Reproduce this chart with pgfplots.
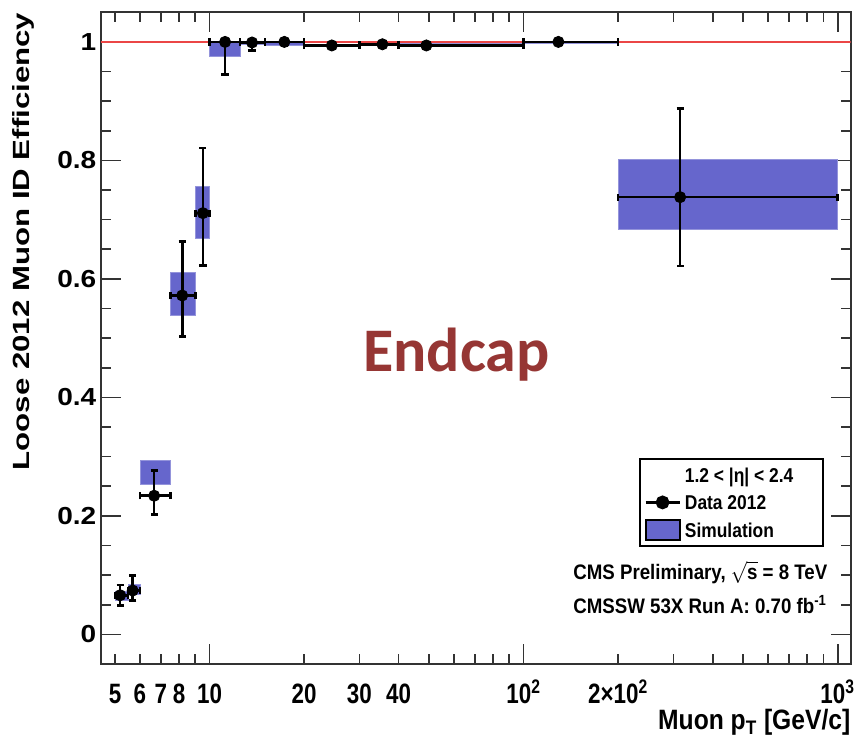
\documentclass[border=0pt]{standalone}
\usepackage{pgfplots}
\pgfplotsset{compat=1.18}
\usepackage{pgfplotstable}
\usepackage{fontspec}
\usepackage{graphicx}
\setmainfont{Liberation Sans}
\newfontfamily\calib{Carlito}

\definecolor{simblue}{RGB}{102,102,204}
\definecolor{endred}{RGB}{150,54,52}
\definecolor{oneline}{RGB}{235,70,70}

\newcommand{\fs}[1]{\fontsize{#1}{#1}\selectfont\bfseries}
\newcommand{\xt}[1]{\scalebox{0.8}[1]{#1}}
\newcommand{\yt}[1]{\scalebox{1}[0.88]{#1}}
\newcommand{\sq}[1]{\scalebox{0.87}[1]{#1}}

% data 2012: x, y, x errors (to bin edges), y errors
\pgfplotstableread{
x     y     exm  exp  eym    eyp
5.19  0.066 0.19 0.31 0.017  0.017
5.69  0.074 0.19 0.31 0.017  0.0255
6.66  0.234 0.66 0.84 0.032  0.043
8.18  0.572 0.68 0.82 0.0695 0.091
9.52  0.711 0.52 0.48 0.088  0.110
11.2  1.000 1.2  1.3  0.055  0.000
13.65 0.999 1.15 1.35 0.014  0.001
17.3  1.000 2.3  2.7  0.007  0.000
24.5  0.994 4.5  5.5  0.004  0.004
35.5  0.996 5.5  4.5  0.005  0.004
49    0.994 9    51   0.004  0.004
129   1.000 29   71   0.002  0.000
315   0.738 115  685  0.116  0.150
}\datatable

\begin{document}
\begin{tikzpicture}
\begin{axis}[
  scale only axis,
  width=375pt, height=325.85pt,
  xmode=log, log basis x=10,
  xmin=4.5, xmax=1100,
  ymin=-0.05, ymax=1.05,
  axis line style={line width=1pt, black!80},
  tick style={line width=0.8pt, black!80},
  major tick length=10pt,
  minor tick length=5pt,
  xtick={10,100,1000},
  xticklabels={\xt{10},\xt{10\textsuperscript{2}},\xt{10\textsuperscript{3}}},
  extra x ticks={5,6,7,8,20,30,40,200},
  extra x tick labels={\xt{5},\xt{6},\xt{7},\xt{8},\xt{20},\xt{30},\xt{40},\xt{2×10\textsuperscript{2}}},
  extra x tick style={/pgfplots/major tick length=5pt},
  minor xtick={9,50,60,70,80,90,300,400,500,600,700,800,900},
  xticklabel style={font=\fs{14}, anchor=base, yshift=-20pt, inner sep=0pt},
  ytick={0,0.2,0.4,0.6,0.8,1},
  yticklabels={\yt{0},\yt{0.2},\yt{0.4},\yt{0.6},\yt{0.8},\yt{1}},
  minor y tick num=3,
  yticklabel style={font=\fs{14}, anchor=east, inner sep=0pt, xshift=-2pt},
  xlabel={\scalebox{0.88}[1]{Muon p\textsubscript{T} [GeV/c]}},
  xlabel style={font=\fs{14}, at={(rel axis cs:1,0)}, anchor=base east, yshift=-33pt, inner sep=0pt},
  ylabel={\scalebox{1}[0.75]{Loose 2012 Muon ID Efficiency}},
  ylabel style={font=\fs{15.6}, at={(rel axis cs:-0.0956,1)}, anchor=base east, inner sep=0pt},
  legend style={at={(0.718,0.3156)}, anchor=north west, draw=black, line width=1pt,
    font=\fs{10}, inner sep=2pt, row sep=2pt,
    nodes={inner sep=2pt, text height=7.5pt, text depth=0.2pt}},
  legend cell align=left,
  simbox/.style={fill=simblue, draw=simblue!70, line width=0.3pt, forget plot},
]
\coordinate (SW) at (rel axis cs:0,0);
\coordinate (NE) at (rel axis cs:1,1);

% simulation boxes
\addplot[simbox] coordinates {(5,0.058) (5.5,0.058) (5.5,0.072) (5,0.072)} -- cycle;
\addplot[simbox] coordinates {(5.5,0.067) (6,0.067) (6,0.084) (5.5,0.084)} -- cycle;
\addplot[simbox] coordinates {(6,0.2536) (7.5,0.2536) (7.5,0.293) (6,0.293)} -- cycle;
\addplot[simbox] coordinates {(7.5,0.539) (9,0.539) (9,0.611) (7.5,0.611)} -- cycle;
\addplot[simbox] coordinates {(9,0.6685) (10,0.6685) (10,0.7555) (9,0.7555)} -- cycle;
\addplot[simbox] coordinates {(10,0.976) (12.5,0.976) (12.5,1.0) (10,1.0)} -- cycle;
\addplot[simbox] coordinates {(12.5,0.996) (15,0.996) (15,1.0) (12.5,1.0)} -- cycle;
\addplot[simbox] coordinates {(15,0.994) (20,0.994) (20,0.999) (15,0.999)} -- cycle;
\addplot[simbox] coordinates {(20,0.992) (30,0.992) (30,0.996) (20,0.996)} -- cycle;
\addplot[simbox] coordinates {(30,0.994) (40,0.994) (40,0.998) (30,0.998)} -- cycle;
\addplot[simbox] coordinates {(40,0.993) (100,0.993) (100,0.997) (40,0.997)} -- cycle;
\addplot[simbox] coordinates {(100,0.998) (200,0.998) (200,1.0) (100,1.0)} -- cycle;
\addplot[simbox] coordinates {(200,0.684) (1000,0.684) (1000,0.802) (200,0.802)} -- cycle;

% reference line at 1
\addplot[oneline, line width=0.6pt, forget plot] coordinates {(4.5,1) (1100,1)};

% data
\addplot[only marks, mark=*, mark size=2.8pt, black, forget plot,
  error bars/.cd, x dir=both, x explicit, y dir=both, y explicit,
  error bar style={line width=1.3pt, black},
  error mark options={rotate=90, line width=1.3pt, mark size=1.8pt, black}]
  table[x=x, y=y, x error minus=exm, x error plus=exp,
        y error minus=eym, y error plus=eyp]{\datatable};

\addlegendimage{empty legend}
\addlegendentry{\makebox[65pt][l]{\sq{1.2 < |η| < 2.4}}}
\addlegendimage{black, line width=1.3pt, mark=*, mark size=2.8pt}
\addlegendentry{\sq{Data 2012}}
\addlegendimage{legend image code/.code={\draw[draw=black, line width=1pt, fill=simblue] (0cm,-0.18cm) rectangle (0.6cm,0.18cm);}}
\addlegendentry{\sq{Simulation}}

\node[anchor=base, text=endred, font=\calib\fontsize{31}{31}\selectfont\bfseries] at (rel axis cs:0.4744,0.4485) {Endcap};
\node[anchor=base west, font=\fs{10.5}, inner sep=0pt] at (rel axis cs:0.6297,0.130) {\scalebox{0.89}[1]{CMS Preliminary, $\sqrt{\mbox{\bfseries s}}$ = 8 TeV}};
\node[anchor=base west, font=\fs{10.5}, inner sep=0pt] at (rel axis cs:0.6297,0.0778) {\scalebox{0.89}[1]{CMSSW 53X Run A: 0.70 fb\textsuperscript{-1}}};
\end{axis}
\pgfresetboundingbox
\path ([shift={(-50.35pt,-39pt)}]SW) rectangle ([shift={(3.65pt,6.15pt)}]NE);
\end{tikzpicture}
\end{document}
